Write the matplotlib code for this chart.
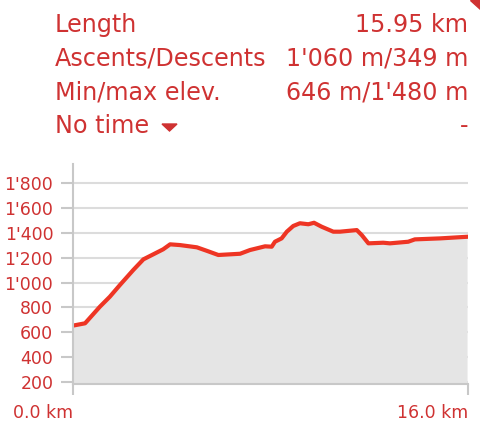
import numpy as np
import matplotlib
matplotlib.use("Agg")
import matplotlib.pyplot as plt
import matplotlib.patches as mpatches

# elevation profile (km, m)
dist_km = [0.0, 0.5, 1.1, 1.5, 1.91, 2.45, 2.86, 3.66, 3.94, 4.34, 5.02, 5.42,
           5.89, 6.77, 7.17, 7.78, 8.05, 8.18, 8.45, 8.66, 8.92, 9.19, 9.53,
           9.76, 10.07, 10.54, 10.81, 11.49, 11.69, 11.96, 12.56, 12.83,
           13.57, 13.84, 14.86, 15.95]
elev_m = [652, 671, 805, 885, 980, 1101, 1187, 1268, 1308, 1302, 1284, 1256,
          1222, 1232, 1262, 1292, 1289, 1329, 1356, 1410, 1456, 1478, 1470,
          1482, 1450, 1410, 1410, 1423, 1383, 1316, 1321, 1316,
          1329, 1348, 1356, 1369]

y_ticks = [200, 400, 600, 800, 1000, 1200, 1400, 1600, 1800]
y_labels = ["200", "400", "600", "800", "1'000", "1'200", "1'400", "1'600", "1'800"]
x_ticks = [0, 16]
x_labels = ["0.0 km", "16.0 km"]

info_labels = ["Length", "Ascents/Descents", "Min/max elev.", "No time"]
info_values = ["15.95 km", "1'060 m/349 m", "646 m/1'480 m", "-"]

text_red = "#cf3232"
line_red = "#ee3524"
axis_gray = "#c8c8c8"

W, H = 480, 430

fig = plt.figure(figsize=(4.8, 4.3), dpi=100)

# header table
rows_y = [25, 58, 92, 126]
for lab, val, yy in zip(info_labels, info_values, rows_y):
    fig.text(55 / W, 1 - yy / H, lab, color=text_red, fontsize=17.2,
             ha="left", va="center")
    fig.text(468 / W, 1 - yy / H, val, color=text_red, fontsize=17.2,
             ha="right", va="center")

# dropdown arrow after "No time"
arrow = [[162 / W, 1 - 124 / H], [177 / W, 1 - 124 / H], [169.5 / W, 1 - 131 / H]]
fig.patches.append(mpatches.Polygon(arrow, closed=True, transform=fig.transFigure,
                                    color=text_red, figure=fig))

# little red corner mark at top right
fig.patches.append(mpatches.Polygon([[0.98, 1.0], [1.0, 1.0], [1.0, 0.978]],
                                    closed=True, transform=fig.transFigure,
                                    color=text_red, figure=fig))

ax = fig.add_axes([72.7 / W, 1 - 384.3 / H, (468.3 - 72.7) / W, (384.3 - 164) / H])
ax.fill_between(dist_km, elev_m, 0, color="#e5e5e5", lw=0, zorder=2)
ax.plot(dist_km, elev_m, color=line_red, lw=3, solid_joinstyle="round", zorder=3)

ax.set_xlim(0, 16)
ax.set_ylim(179, 1956)

ax.set_yticks(y_ticks)
ax.set_yticklabels(y_labels)
ax.set_xticks(x_ticks)
ax.set_xticklabels(x_labels)
for t in ax.get_xticklabels():
    t.set_ha("right")

ax.grid(axis="y", color="#dcdcdc", lw=1.5, zorder=1)
ax.tick_params(axis="y", length=9, width=1.5, color=axis_gray, labelcolor=text_red,
               labelsize=12.5, pad=5)
ax.tick_params(axis="x", length=8, width=1.5, color=axis_gray, labelcolor=text_red,
               labelsize=12.5, pad=6)

for s in ["top", "right"]:
    ax.spines[s].set_visible(False)
for s in ["left", "bottom"]:
    ax.spines[s].set_color(axis_gray)
    ax.spines[s].set_linewidth(1.5)
    ax.spines[s].set_zorder(4)

fig.savefig("out.png", dpi=100)
